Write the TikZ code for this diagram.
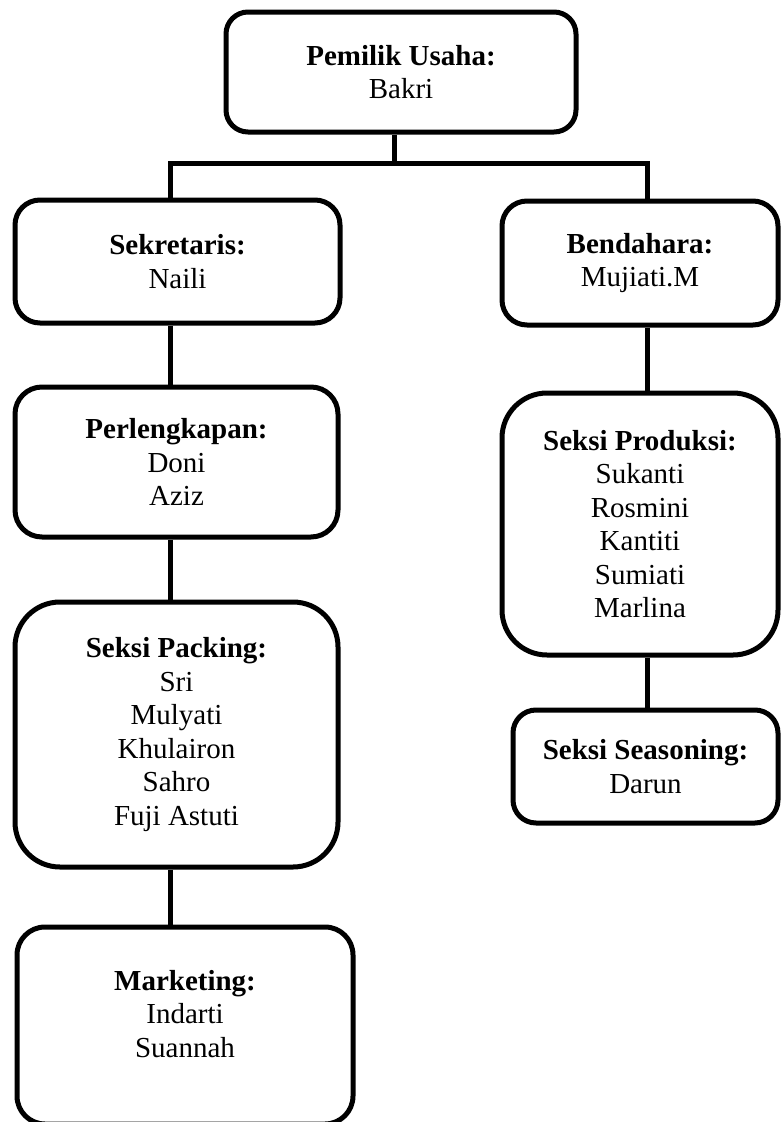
\documentclass[tikz,border=0pt]{standalone}
\usepackage{fontspec}
\setmainfont{Liberation Serif}
\begin{document}
\begin{tikzpicture}[x=1pt,y=-1pt,
  orgbox/.style={draw=black, line width=5pt, align=center, inner sep=0pt,
    font={\fontsize{29}{33.5}\selectfont}, rounded corners=#1},
  orgbox/.default=25pt,
  link/.style={draw=black, line width=5pt, line join=miter}]
\useasboundingbox (0,0) rectangle (781,1122);
\clip (0,0) rectangle (781,1122);
\fill[white] (0,0) rectangle (781,1122);

\node[orgbox=22pt, minimum width=350pt, minimum height=120pt] (top) at (401,72)
  {\textbf{Pemilik Usaha:}\\Bakri};
\node[orgbox=25pt, minimum width=325pt, minimum height=123pt] (sek) at (177.5,261.5)
  {\textbf{Sekretaris:}\\Naili};
\node[orgbox=25pt, minimum width=276pt, minimum height=124pt] (ben) at (640,263)
  {\textbf{Bendahara:}\\Mujiati.M};
\node[orgbox=27pt, minimum width=323pt, minimum height=150pt] (perl) at (176.5,462)
  {\textbf{Perlengkapan:}\\Doni\\Aziz};
\node[orgbox=45pt, minimum width=323pt, minimum height=265pt] (pack) at (176.5,734.5)
  {\textbf{Seksi Packing:}\\Sri\\Mulyati\\Khulairon\\Sahro\\Fuji Astuti};
\node[orgbox=28pt, minimum width=336pt, minimum height=197pt] (mkt) at (185,1025.5)
  {\textbf{Marketing:}\\Indarti\\Suannah\rule[-24pt]{0pt}{1pt}};
\node[orgbox=45pt, minimum width=276pt, minimum height=262pt] (prod) at (640,524)
  {\textbf{Seksi Produksi:}\\Sukanti\\Rosmini\\Kantiti\\Sumiati\\Marlina};
\node[orgbox=23pt, minimum width=265pt, minimum height=113pt] (seas) at (645.5,766.5)
  {\textbf{Seksi Seasoning:}\\Darun};

\coordinate (stem) at (394,163);
\coordinate (hl) at (170,163);
\coordinate (hr) at (647,163);

\draw[link] (top.south -| stem) -- (stem);
\draw[link] (sek.north -| hl) -- (hl) -- (hr) -- (ben.north -| hr);
\draw[link] (sek.south -| hl) -- (perl.north -| hl);
\draw[link] (perl.south -| hl) -- (pack.north -| hl);
\draw[link] (pack.south -| hl) -- (mkt.north -| hl);
\draw[link] (ben.south -| hr) -- (prod.north -| hr);
\draw[link] (prod.south -| hr) -- (seas.north -| hr);
\end{tikzpicture}
\end{document}
